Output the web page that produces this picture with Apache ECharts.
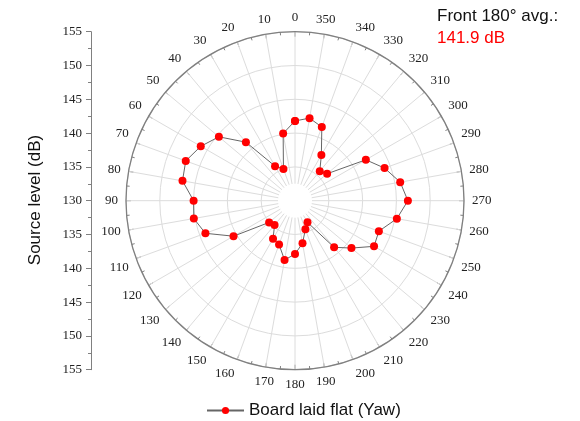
<!DOCTYPE html>
<html><head><meta charset="utf-8">
<script src="https://cdn.jsdelivr.net/npm/echarts@6/dist/echarts.min.js"></script>
<style>html,body{margin:0;padding:0;background:#fff}#c{width:580px;height:421px}</style>
</head><body><div id="c"></div>
<script>
// ---- data ----
const angles = [0,10,20,30,40,50,60,70,80,90,100,110,120,130,140,150,160,170,
                180,190,200,210,220,230,240,250,260,270,280,290,300,310,320,330,340,350,360];
const levels = [141.8,140.1,135.0,135.9,141.3,144.7,146.1,147.2,146.9,145.0,145.2,144.1,140.5,135.0,134.7,136.5,136.9,138.9,
                137.9,136.4,134.5,133.7,139.0,140.9,143.5,143.2,145.3,146.7,145.8,144.1,142.1,136.2,135.7,137.8,141.6,142.4,141.8];
const seriesName = 'Board laid flat (Yaw)';
const avgLabel = 'Front 180° avg.:';
const avgValue = '141.9 dB';
const yTitle = 'Source level (dB)';
const radialMin = 130, radialMax = 155, radialStep = 5;

// ---- layout ----
const CX = 295, CY = 200.7, R = 169, HOLE = 17;
const serif = 'Liberation Serif, "Times New Roman", serif';
const sans = 'Liberation Sans, Arial, sans-serif';
const axisGray = '#808080', gridGray = '#dcdcdc';

const chart = echarts.init(document.getElementById('c'), null, {renderer:'canvas'});
const yAxisCommon = {
  type:'value', min:radialMin, max:radialMax, interval:radialStep,
  axisLine:{show:true, lineStyle:{color:axisGray, width:1}},
  axisTick:{show:true, length:5, lineStyle:{color:axisGray}},
  minorTick:{show:true, splitNumber:2, length:3, lineStyle:{color:axisGray}},
  splitLine:{show:false},
  axisLabel:{fontFamily:serif, fontSize:13, color:'#222', margin:9}
};
const option = {
  animation:false,
  backgroundColor:'#fff',
  title:{
    left:437, top:5, padding:0,
    text:'{a|'+avgLabel+'}\n{b|'+avgValue+'}',
    textStyle:{fontWeight:'normal', rich:{
      a:{fontFamily:sans, fontSize:17, fontWeight:'normal', color:'#111', lineHeight:22},
      b:{fontFamily:sans, fontSize:17, fontWeight:'normal', color:'#ff0000', lineHeight:22}
    }}
  },
  legend:{
    data:[seriesName], left:206, top:402, padding:0,
    itemWidth:37, itemHeight:9,
    textStyle:{fontFamily:sans, fontSize:17, color:'#111'}
  },
  graphic:[{
    type:'text', x:35, y:200, rotation:Math.PI/2,
    style:{text:yTitle, fontFamily:sans, fontSize:17, fill:'#111', align:'center', verticalAlign:'middle'}
  }],
  grid:[
    {left:91, top:CY-R, width:40, height:R},
    {left:91, top:CY, width:40, height:R}
  ],
  xAxis:[
    {gridIndex:0, type:'value', min:0, max:1, show:false},
    {gridIndex:1, type:'value', min:0, max:1, show:false}
  ],
  yAxis:[
    Object.assign({gridIndex:0}, yAxisCommon),
    Object.assign({gridIndex:1, inverse:true}, yAxisCommon,
      {axisLabel:Object.assign({}, yAxisCommon.axisLabel, {showMinLabel:false})})
  ],
  polar:[
    {center:[CX,CY], radius:[0,R]},
    {center:[CX,CY], radius:[HOLE,R]}
  ],
  angleAxis:[
    {polarIndex:0, type:'value', min:0, max:360, interval:10, startAngle:90, clockwise:false,
     axisLine:{show:true, lineStyle:{color:axisGray, width:1.3}},
     axisTick:{show:true, inside:true, length:5, lineStyle:{color:axisGray}},
     minorTick:{show:true, splitNumber:2, length:3, lineStyle:{color:axisGray}},
     axisLabel:{margin:8, fontFamily:serif, fontSize:13, color:'#222',
       formatter:function(v){return v>=360?'':String(v);}},
     splitLine:{show:false}},
    {polarIndex:1, type:'value', min:0, max:360, interval:10, startAngle:90, clockwise:false,
     axisLine:{show:false}, axisTick:{show:false}, axisLabel:{show:false},
     splitLine:{show:true, lineStyle:{color:gridGray, width:1}}}
  ],
  radiusAxis:[
    {polarIndex:0, type:'value', min:radialMin, max:radialMax, interval:radialStep,
     axisLine:{show:false}, axisTick:{show:false}, axisLabel:{show:false},
     splitLine:{show:true, lineStyle:{color:gridGray, width:1}}},
    {polarIndex:1, type:'value', min:radialMin+2.5, max:radialMax, show:false}
  ],
  series:[{
    type:'line', name:seriesName, coordinateSystem:'polar', polarIndex:0,
    data:angles.map(function(a,i){return [levels[i], a];}),
    symbol:'circle', symbolSize:8, z:5,
    lineStyle:{color:'#666', width:1},
    itemStyle:{color:'#ff0000'}
  }]
};
chart.setOption(option);
</script>
</body></html>
